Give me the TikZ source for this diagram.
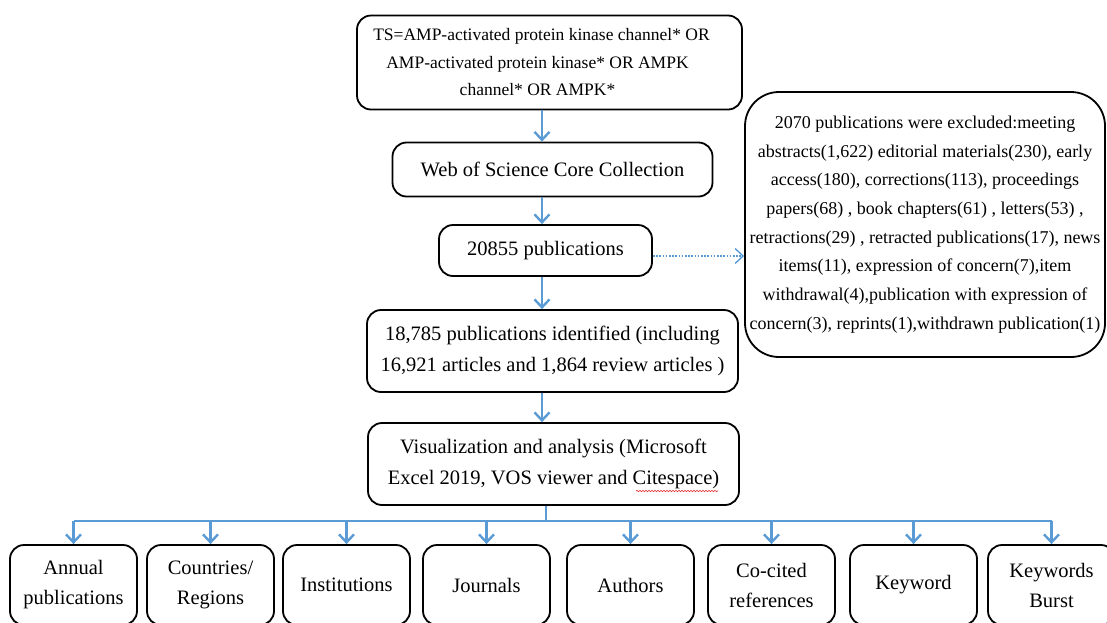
\documentclass[tikz,border=0pt]{standalone}
\usepackage{fontspec}
\setmainfont{Liberation Serif}
\usetikzlibrary{arrows.meta,decorations.pathmorphing}
\definecolor{flowblue}{RGB}{91,155,213}
\definecolor{squigred}{RGB}{225,45,45}
\newcommand{\padr}[1]{\hbox to #1{}}
\tikzset{
  box/.style={draw=black, line width=1.8pt, rounded corners=14pt, inner sep=0pt,
    align=center, font=\fontsize{20.5}{31.5}\selectfont},
  smallbox/.style={box, minimum width=127pt, minimum height=80pt,
    font=\fontsize{20.5}{30}\selectfont},
  flow/.style={draw=flowblue, line width=2.4pt,
    -{Straight Barb[length=8pt,width=15pt]}},
  busline/.style={draw=flowblue, line width=2.4pt},
  dotflow/.style={draw=flowblue, line width=1.6pt, dash pattern=on 1.6pt off 1.6pt,
    -{Straight Barb[length=8pt,width=15pt,line width=1.4pt]}},
}
\begin{document}
\begin{tikzpicture}[x=1pt,y=-1pt]
\useasboundingbox (0,0) rectangle (1107,622);
% main column
\node[box, minimum width=385pt, minimum height=94pt,
  font=\fontsize{17.5}{27.5}\selectfont] (n1) at (549.5,62.5)
  {TS=AMP-activated protein kinase channel* OR\padr{16pt}\\AMP-activated protein kinase* OR AMPK\padr{24pt}\\channel* OR AMPK*\padr{24pt}};
\node[box, minimum width=320pt, minimum height=54pt] (n2) at (552.5,169.5)
  {Web of Science Core Collection};
\node[box, minimum width=213pt, minimum height=51pt] (n3) at (545.5,250.5)
  {20855 publications};
\node[box, minimum width=371pt, minimum height=82pt] (n4) at (552.5,351)
  {18,785 publications identified (including\\16,921 articles and 1,864 review articles )};
\node[box, minimum width=371pt, minimum height=82pt] (n5) at (553.5,464)
  {Visualization and analysis (Microsoft\\Excel 2019, VOS viewer and Citespace)};
% exclusion box
\node[box, rounded corners=34pt, minimum width=360pt, minimum height=265pt,
  font=\fontsize{18}{28.7}\selectfont] (ex) at (925,224.5)
  {2070 publications were excluded:meeting\\
   abstracts(1,622) editorial materials(230), early\\
   access(180), corrections(113), proceedings\\
   papers(68) , book chapters(61) , letters(53) ,\\
   retractions(29) , retracted publications(17), news\\
   items(11), expression of concern(7),item\\
   withdrawal(4),publication with expression of\\
   concern(3), reprints(1),withdrawn publication(1)};
% bottom boxes
\node[smallbox] (b1) at (73.5,585) {Annual\\publications};
\node[smallbox] (b2) at (210.5,585) {Countries/\\Regions};
\node[smallbox] (b3) at (346.5,585) {Institutions};
\node[smallbox] (b4) at (486.5,585) {Journals};
\node[smallbox] (b5) at (630.5,585) {Authors};
\node[smallbox] (b6) at (771.5,585) {Co-cited\\references};
\node[smallbox] (b7) at (913.5,585) {Keyword};
\node[smallbox] (b8) at (1051.5,585) {Keywords\\Burst};
% vertical flow
\coordinate (col) at (542,0);
\draw[flow] (n1.south -| col) -- (n2.north -| col);
\draw[flow] (n2.south -| col) -- (n3.north -| col);
\draw[flow] (n3.south -| col) -- (n4.north -| col);
\draw[flow] (n4.south -| col) -- (n5.north -| col);
% dotted to exclusion
\draw[dotflow] ([yshift=-5.5pt]n3.east) -- ([yshift=-5.5pt]n3.east -| ex.west);
% bus
\coordinate (bus) at (546,521);
\draw[busline] (n5.south -| bus) -- (bus);
\draw[busline] (b1.north |- bus) -- (b8.north |- bus);
\foreach \b in {b1,b2,b3,b4,b5,b6,b7,b8}{
  \draw[flow] (\b.north |- bus) -- (\b.north);
}
% spell-check squiggle under Citespace
\draw[squigred, line width=0.6pt, decorate,
  decoration={snake, amplitude=0.7pt, segment length=3pt}] (636,491) -- (718,491);
\end{tikzpicture}
\end{document}
